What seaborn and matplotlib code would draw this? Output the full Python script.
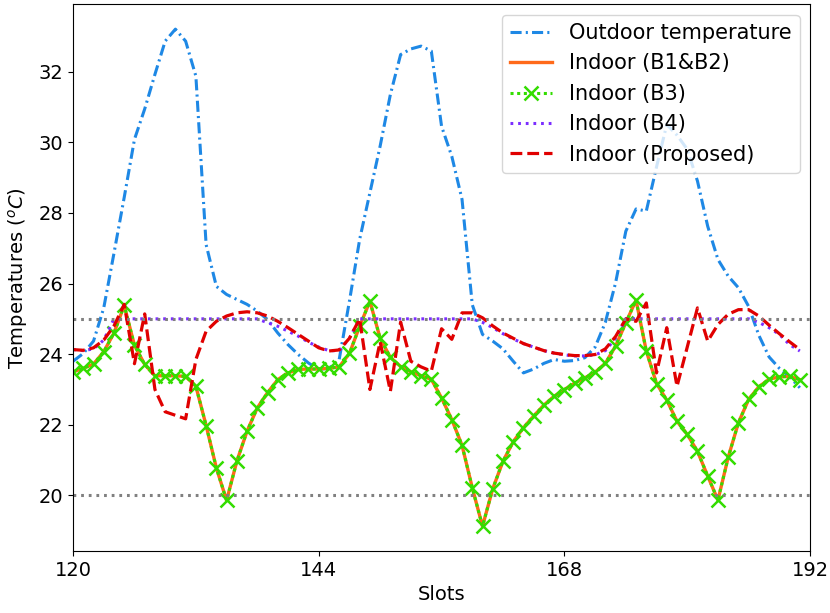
import numpy as np
import pandas as pd
import matplotlib
matplotlib.use('Agg')
import matplotlib.pyplot as plt
import seaborn as sns

# slots 120..191 (one value per slot)
slots = list(range(120, 192))

outdoor = [23.8, 24.02, 24.37, 25.31, 26.86, 28.44, 30.08, 30.94, 31.92, 32.86,
           33.2, 32.86, 31.87, 27.1, 25.92, 25.69, 25.55, 25.41, 25.22, 24.98,
           24.6, 24.27, 23.99, 23.75, 23.57, 23.6, 23.85, 25.5, 27.25, 28.57,
           29.89, 31.35, 32.48, 32.64, 32.72, 32.58, 30.45, 29.6, 28.38, 25.4,
           24.56, 24.37, 24.15, 23.8, 23.47, 23.58, 23.74, 23.85, 23.8, 23.82,
           23.9, 24.2, 24.9, 26.02, 27.48, 28.11, 28.05, 29.3, 30.5, 30.2,
           29.8, 28.9, 27.62, 26.68, 26.21, 25.88, 25.35, 24.53, 23.92, 23.6,
           23.36, 23.05]

indoor_b3 = [23.5, 23.6, 23.72, 24.07, 24.6, 25.38, 24.25, 23.71, 23.39, 23.39,
             23.39, 23.37, 23.09, 21.98, 20.78, 19.86, 20.97, 21.82, 22.48, 22.91,
             23.28, 23.47, 23.57, 23.58, 23.58, 23.6, 23.64, 24.02, 24.79, 25.5,
             24.45, 23.91, 23.65, 23.5, 23.39, 23.29, 22.76, 22.15, 21.42, 20.22,
             19.13, 20.19, 20.97, 21.52, 21.92, 22.25, 22.56, 22.81, 23.0, 23.18,
             23.33, 23.49, 23.74, 24.23, 24.89, 25.53, 24.09, 23.17, 22.7, 22.1,
             21.73, 21.25, 20.55, 19.87, 21.08, 22.06, 22.72, 23.08, 23.29, 23.36,
             23.37, 23.28]

# B1&B2 lies on top of B3 in the figure
indoor_b12 = list(indoor_b3)

indoor_b4 = [24.13, 24.1, 24.15, 24.4, 25.0, 25.0, 25.0, 25.0, 25.0, 25.0,
             25.0, 25.0, 25.0, 25.0, 25.0, 25.0, 25.0, 25.0, 25.0, 24.89,
             24.79, 24.65, 24.51, 24.34, 24.2, 24.1, 24.1, 24.45, 25.0, 25.0,
             25.0, 25.0, 25.0, 25.0, 25.0, 25.0, 25.0, 25.0, 25.0, 25.0,
             24.9, 24.75, 24.58, 24.43, 24.3, 24.2, 24.1, 24.03, 23.98, 23.95,
             23.95, 23.98, 24.1, 24.45, 25.0, 25.0, 25.0, 25.0, 25.0, 25.0,
             25.0, 25.0, 25.0, 25.0, 25.0, 25.0, 25.0, 24.9, 24.75, 24.56,
             24.27, 24.09]

indoor_prop = [24.13, 24.11, 24.18, 24.4, 24.8, 25.41, 23.73, 25.14, 23.0, 22.37,
               22.27, 22.17, 23.85, 24.65, 24.93, 25.08, 25.17, 25.2, 25.17, 25.08,
               24.93, 24.75, 24.56, 24.37, 24.18, 24.09, 24.12, 24.45, 25.0, 23.0,
               24.35, 22.95, 24.91, 23.8, 23.64, 23.52, 24.72, 24.42, 25.17, 25.17,
               25.03, 24.8, 24.6, 24.45, 24.3, 24.2, 24.1, 24.03, 23.99, 23.96,
               23.96, 23.99, 24.15, 24.5, 25.0, 24.93, 25.45, 23.47, 24.75, 23.09,
               24.2, 25.31, 24.37, 24.84, 25.13, 25.26, 25.26, 25.08, 24.82, 24.58,
               24.35, 24.13]

t_min, t_max = 20, 25  # comfort band

df = pd.DataFrame({'slot': slots, 'out': outdoor, 'b12': indoor_b12,
                   'b3': indoor_b3, 'b4': indoor_b4, 'prop': indoor_prop})

plt.rcParams['lines.scale_dashes'] = False
plt.rcParams['font.size'] = 14

fig, ax = plt.subplots(figsize=(8.3, 6.13), dpi=100)
fig.subplots_adjust(left=0.088, right=0.976, top=0.993, bottom=0.101)

green = '#33dd00'
sns.lineplot(data=df, x='slot', y='out', ax=ax, color='#1e88e5', linewidth=2.2,
             linestyle=(0, (8, 3, 1.5, 3)), label='Outdoor temperature')
sns.lineplot(data=df, x='slot', y='b12', ax=ax, color='#ff6a1a', linewidth=2.4,
             label='Indoor (B1&B2)')
sns.lineplot(data=df, x='slot', y='b3', ax=ax, color=green, linewidth=2.2,
             linestyle=(0, (2.2, 2.6)), marker='x', markersize=10,
             markeredgewidth=1.8, markeredgecolor=green, markerfacecolor=green,
             label='Indoor (B3)')
sns.lineplot(data=df, x='slot', y='b4', ax=ax, color='#7b2dff', linewidth=2.2,
             linestyle=(0, (2, 3.5)), label='Indoor (B4)')
sns.lineplot(data=df, x='slot', y='prop', ax=ax, color='#e00000', linewidth=2.3,
             linestyle=(0, (8.5, 3.6)), label='Indoor (Proposed)')

for lvl in (t_min, t_max):
    ax.axhline(lvl, color='gray', linewidth=2.2, linestyle=(0, (2, 3.5)))

ax.set_xlim(120, 192)
ax.set_xticks([120, 144, 168, 192])
ax.set_yticks([20, 22, 24, 26, 28, 30, 32])
ax.set_xlabel('Slots')
ax.set_ylabel(r'Temperatures ($^oC$)', labelpad=6)
ax.legend(loc='upper right', fontsize=15)

fig.savefig('out.png', dpi=100)
